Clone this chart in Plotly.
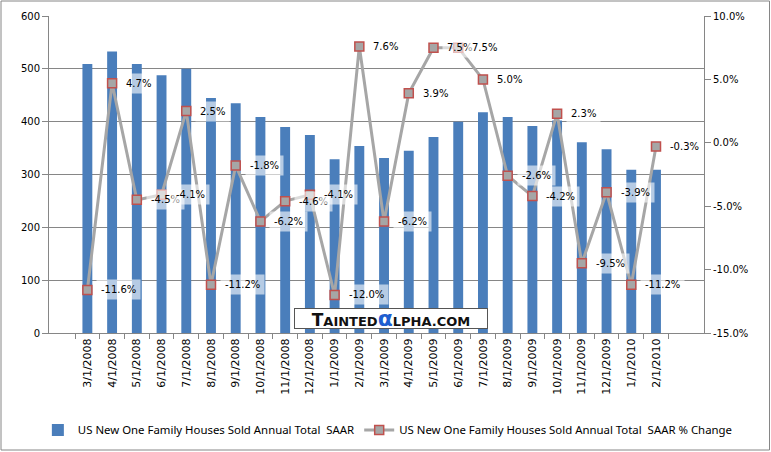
import plotly.graph_objects as go

dates = ["3/1/2008", "4/1/2008", "5/1/2008", "6/1/2008", "7/1/2008", "8/1/2008",
         "9/1/2008", "10/1/2008", "11/1/2008", "12/1/2008", "1/1/2009", "2/1/2009",
         "3/1/2009", "4/1/2009", "5/1/2009", "6/1/2009", "7/1/2009", "8/1/2009",
         "9/1/2009", "10/1/2009", "11/1/2009", "12/1/2009", "1/1/2010", "2/1/2010"]
sales = [509, 533, 509, 488, 500, 445, 435, 409, 390, 375, 329, 354,
         331, 345, 371, 400, 418, 409, 392, 402, 361, 348, 309, 309]
pct_change = [-11.6, 4.7, -4.5, -4.1, 2.5, -11.2, -1.8, -6.2, -4.6, -4.1, -12.0, 7.6,
              -6.2, 3.9, 7.5, 7.5, 5.0, -2.6, -4.2, 2.3, -9.5, -3.9, -11.2, -0.3]
left_ticks = [0, 100, 200, 300, 400, 500, 600]
right_ticks = [-15, -10, -5, 0, 5, 10]
right_tick_text = ["-15.0%", "-10.0%", "-5.0%", "0.0%", "5.0%", "10.0%"]

name_bar = "US New One Family Houses Sold Annual Total  SAAR"
name_line = "US New One Family Houses Sold Annual Total  SAAR % Change"

GRID = "#868686"
TICKFONT = dict(family="DejaVu Sans", size=10, color="black")

fig = go.Figure()
fig.add_trace(go.Bar(x=dates, y=sales, name=name_bar, marker=dict(color="#4a7ebb", line=dict(width=0)),
                     yaxis="y"))
fig.add_trace(go.Scatter(x=dates, y=pct_change, name=name_line, mode="lines+markers",
                         line=dict(color="#a6a6a6", width=3),
                         marker=dict(symbol="square", size=9, color="#a6a6a6",
                                     line=dict(color="#c0504d", width=1.5)),
                         yaxis="y2"))

annotations = []
for d, v in zip(dates, pct_change):
    annotations.append(dict(x=d, y=v, xref="x", yref="y2", text=f"{v:.1f}%",
                            showarrow=False, xanchor="left", yanchor="middle", xshift=9,
                            font=dict(family="DejaVu Sans", size=10, color="black"),
                            bgcolor="rgba(255,255,255,0.6)", borderpad=4))

annotations.append(dict(
    x=(294 - 49) / 655, y=(333 - 318) / 317, xref="paper", yref="paper",
    xanchor="left", yanchor="middle", showarrow=False, width=190, height=17,
    text=("<b>T<span style='font-size:13px'>AINTED</span>"
          "<span style='color:#1f5fd0;font-size:22px'>α</span>"
          "<span style='font-size:13px'>LPHA.COM</span></b>"),
    font=dict(family="DejaVu Sans", size=17, color="#111111"),
    bgcolor="white", bordercolor="#555555", borderwidth=1, borderpad=1))

fig.update_layout(
    width=771, height=452,
    margin=dict(l=49, r=67, t=16, b=119, autoexpand=False),
    paper_bgcolor="white", plot_bgcolor="white",
    bargap=0.6,
    showlegend=True,
    legend=dict(orientation="h", x=-0.017, xanchor="left", y=-0.306, yanchor="middle",
                font=dict(family="Noto Sans", size=11.4, color="black"),
                itemwidth=30, tracegroupgap=0, bgcolor="rgba(0,0,0,0)"),
    xaxis=dict(type="category", tickangle=-90, showgrid=False, showline=True, automargin=False,
               linecolor=GRID, linewidth=1, ticks="outside", tickson="boundaries",
               ticklen=5, tickcolor=GRID, tickfont=dict(family="DejaVu Sans", size=11, color="black")),
    yaxis=dict(range=[0, 600], tickvals=left_ticks, showgrid=True, gridcolor=GRID, gridwidth=1,
               showline=True, linecolor=GRID, ticks="outside", ticklen=6, tickcolor=GRID,
               tickfont=TICKFONT, zeroline=False, automargin=False),
    yaxis2=dict(range=[-15, 10], tickvals=right_ticks, ticktext=right_tick_text,
                overlaying="y", side="right", automargin=False,
                showgrid=False, showline=True, linecolor=GRID, ticks="outside", ticklen=6,
                tickcolor=GRID, tickfont=TICKFONT, zeroline=False),
    annotations=annotations,
    shapes=[dict(type="rect", xref="paper", yref="paper",
                 x0=(1 - 49) / 655, x1=(769.5 - 49) / 655,
                 y0=(333 - 450) / 317, y1=(333 - 1) / 317,
                 line=dict(color="#868686", width=1), fillcolor="rgba(0,0,0,0)", layer="below")],
)

fig.write_html("out.html", config={"displayModeBar": False},
               post_script="document.body.style.margin='0';document.body.style.overflow='hidden';")
